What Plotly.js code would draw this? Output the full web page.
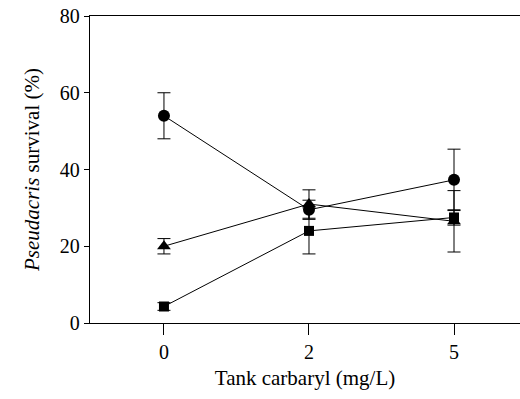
<!DOCTYPE html>
<html><head><meta charset="utf-8">
<script src="https://cdn.plot.ly/plotly-3.0.1.min.js"></script>
<style>
html,body{margin:0;padding:0;background:#fff}
#chart svg text{font-family:'Liberation Serif' !important;}
.fontload{position:absolute;left:0;top:0;visibility:hidden;font-family:'Liberation Serif';font-size:20px}
</style>
</head><body>
<div class="fontload">Tank 0 2 5 <i>Pseudacris</i></div>
<div id="chart" style="width:520px;height:399px"></div>
<script>
const categories = ['0', '2', '5'];
const circleVals = [54, 29.5, 37.3];
const circleErr = [6, 2.5, 8];
const triangleVals = [20, 31, 26.5];
const triangleErr = [2, 3.7, 8];
const squareVals = [4.3, 24, 27.5];
const squareErr = [1, 6, 2];

function tr(y, err, sym, sz) {
  return {
    x: categories, y: y, type: 'scatter', mode: 'lines+markers',
    line: {color: '#000', width: 1},
    marker: {symbol: sym, size: sz, color: '#000'},
    error_y: {type: 'data', array: err, visible: true, color: '#000', thickness: 1, width: 6.5},
    showlegend: false
  };
}
const data = [
  tr(squareVals, squareErr, 'square', 10),
  tr(triangleVals, triangleErr, 'triangle-up', 12),
  tr(circleVals, circleErr, 'circle', 12)
];
const serif = 'Liberation Serif';
const layout = {
  width: 520, height: 399,
  margin: {l: 90, r: 0, t: 16, b: 76},
  paper_bgcolor: '#fff', plot_bgcolor: '#fff',
  font: {family: serif, color: '#000', size: 20},
  xaxis: {
    type: 'category', range: [-0.51, 2.455],
    showgrid: false, zeroline: false,
    showline: true, linecolor: '#000', linewidth: 1.3, mirror: true,
    ticks: 'outside', ticklen: 11, tickwidth: 1, tickcolor: '#000',
    tickfont: {family: serif, size: 20},
    title: {text: 'Tank carbaryl (mg/L)', font: {family: serif, size: 21}, standoff: 8}
  },
  yaxis: {
    range: [0, 80], tickvals: [0, 20, 40, 60, 80],
    showgrid: false, zeroline: false,
    showline: true, linecolor: '#000', linewidth: 1.3,
    ticks: 'outside', ticklen: 5, tickwidth: 1, tickcolor: '#000',
    tickfont: {family: serif, size: 20},
    title: {text: '<i>Pseudacris</i> survival (%)', font: {family: serif, size: 21}, standoff: 14}
  }
};
Plotly.newPlot('chart', data, layout, {staticPlot: true});
</script>
</body></html>
